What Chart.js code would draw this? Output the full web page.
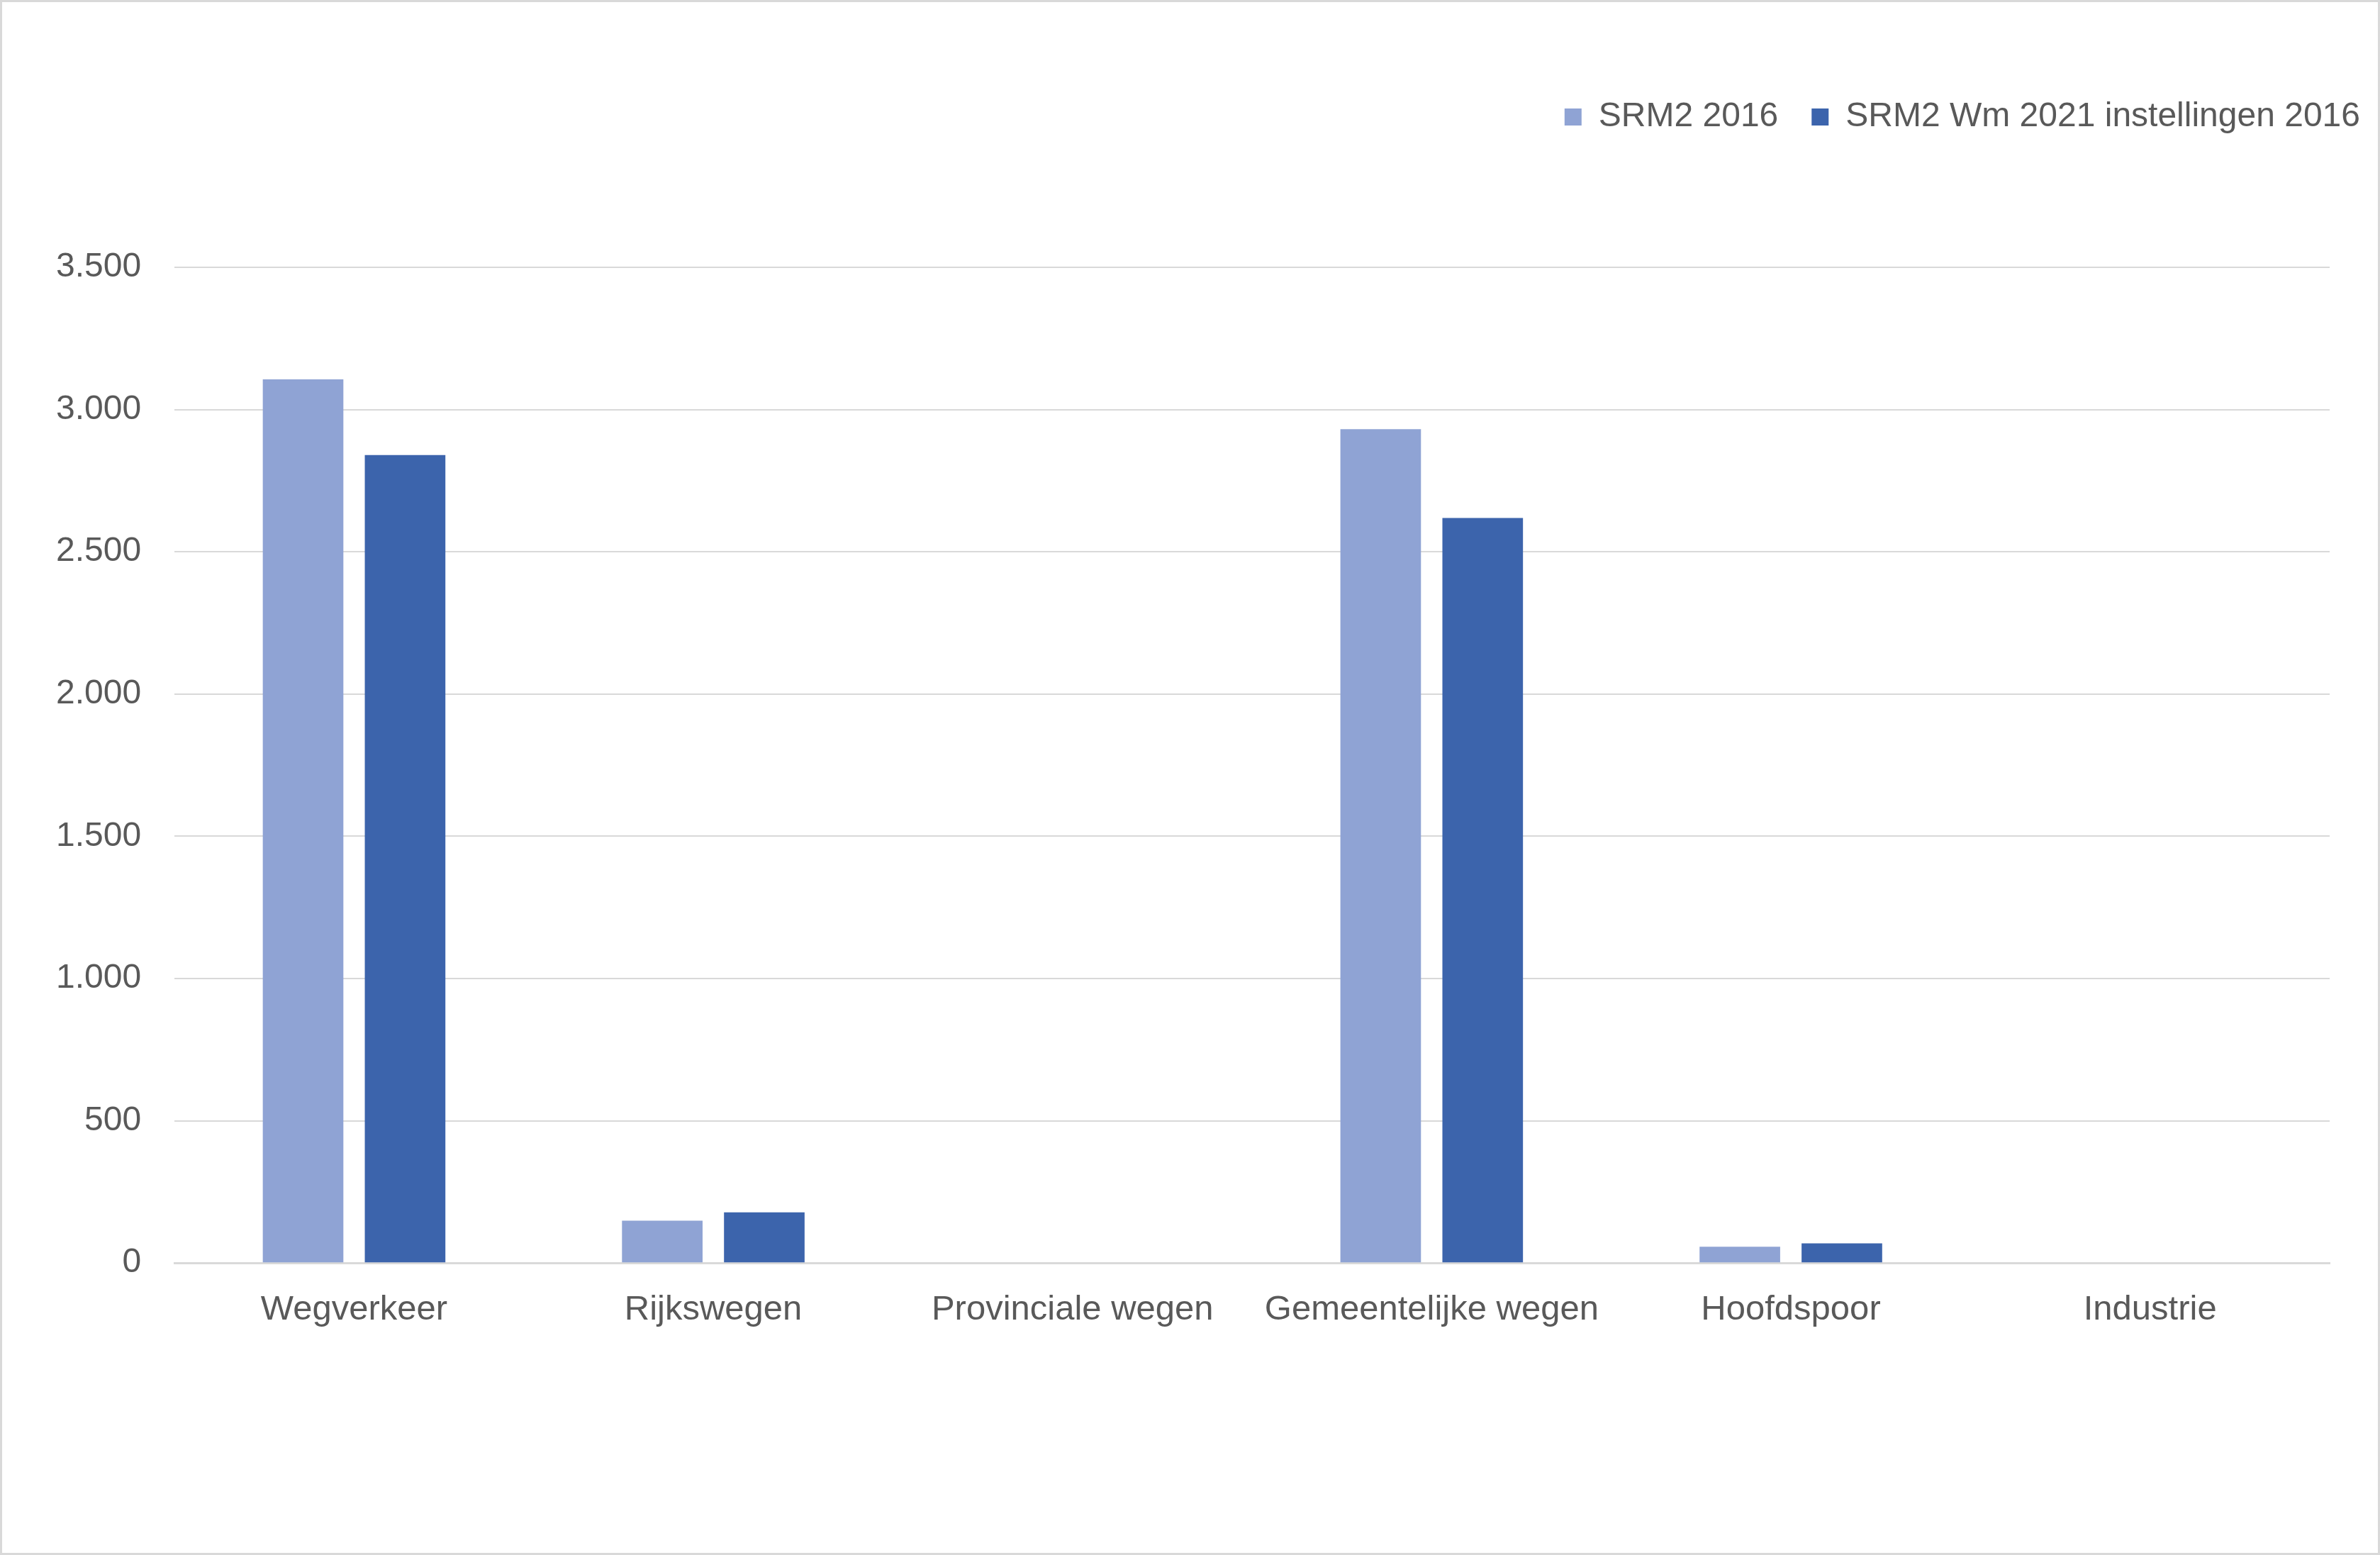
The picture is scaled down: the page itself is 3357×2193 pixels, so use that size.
<!DOCTYPE html>
<html>
<head>
<meta charset="utf-8">
<script src="https://cdn.jsdelivr.net/npm/chart.js@4.4.0/dist/chart.umd.min.js"></script>
<style>
  html, body { margin: 0; padding: 0; background: #ffffff; }
  canvas { display: block; }
</style>
</head>
<body>
<canvas id="c" width="3357" height="2193"></canvas>
<script>
const categories = ["Wegverkeer", "Rijkswegen", "Provinciale wegen", "Gemeentelijke wegen", "Hoofdspoor", "Industrie"];
const seriesNames = ["SRM2 2016", "SRM2 Wm 2021 instellingen 2016"];
const srm2016 = [3106, 149, 0, 2931, 57, 0];
const srm2Wm2021 = [2840, 178, 0, 2619, 69, 0];
const yTicks = [0, 500, 1000, 1500, 2000, 2500, 3000, 3500];

function fmtNL(v) {
  return String(Math.round(v)).replace(/\B(?=(\d{3})+(?!\d))/g, ".");
}

const FONT = "'Liberation Sans', Arial, sans-serif";
const TEXT = "#595959";

const framePlugin = {
  id: "frame",
  beforeDraw(chart) {
    const ctx = chart.ctx;
    ctx.save();
    ctx.fillStyle = "#ffffff";
    ctx.fillRect(0, 0, chart.width, chart.height);
    ctx.strokeStyle = "#d9d9d9";
    ctx.lineWidth = 3;
    ctx.strokeRect(1.5, 1.5, chart.width - 3, chart.height - 3);
    ctx.restore();
  }
};

new Chart(document.getElementById("c"), {
  type: "bar",
  data: {
    labels: categories,
    datasets: [
      { label: seriesNames[0], data: srm2016, backgroundColor: "#8FA3D4", borderWidth: 0, xAxisID: "x", yAxisID: "y" },
      { label: seriesNames[1], data: srm2Wm2021, backgroundColor: "#3C64AC", borderWidth: 0, xAxisID: "x", yAxisID: "y" }
    ]
  },
  options: {
    responsive: false,
    devicePixelRatio: 1,
    animation: false,
    layout: { padding: { left: 32, right: -19, top: 94, bottom: 279 } },
    datasets: { bar: { barPercentage: 0.79, categoryPercentage: 0.568 } },
    plugins: {
      legend: {
        position: "top",
        align: "end",
        labels: {
          boxWidth: 24,
          boxHeight: 24,
          padding: 47,
          color: TEXT,
          font: { family: FONT, size: 48 }
        }
      },
      tooltip: { enabled: false },
      title: { display: false }
    },
    scales: {
      x: {
        type: "category",
        position: "bottom",
        grid: { display: false, drawTicks: false },
        border: { display: true, color: "#d9d9d9", width: 3 },
        ticks: { color: TEXT, font: { family: FONT, size: 49 }, padding: 37, maxRotation: 0, autoSkip: false }
      },
      xTopSpacer: {
        type: "category",
        position: "top",
        display: true,
        grid: { display: false, drawTicks: false },
        border: { display: false },
        ticks: { display: false },
        afterFit(s) { s.height = 178; }
      },
      y: {
        type: "linear",
        position: "left",
        min: 0,
        max: 3500,
        afterBuildTicks(s) { s.ticks = yTicks.map(v => ({ value: v })); },
        grid: { color: "#d9d9d9", lineWidth: 2, drawTicks: false },
        border: { display: false },
        ticks: {
          color: TEXT,
          font: { family: FONT, size: 48 },
          padding: 47,
          callback: (v) => fmtNL(v)
        }
      },
      yRightSpacer: {
        type: "linear",
        position: "right",
        display: true,
        grid: { display: false, drawTicks: false },
        border: { display: false },
        ticks: { display: false },
        afterFit(s) { s.width = 90; }
      }
    }
  },
  plugins: [framePlugin]
});
</script>
</body>
</html>
